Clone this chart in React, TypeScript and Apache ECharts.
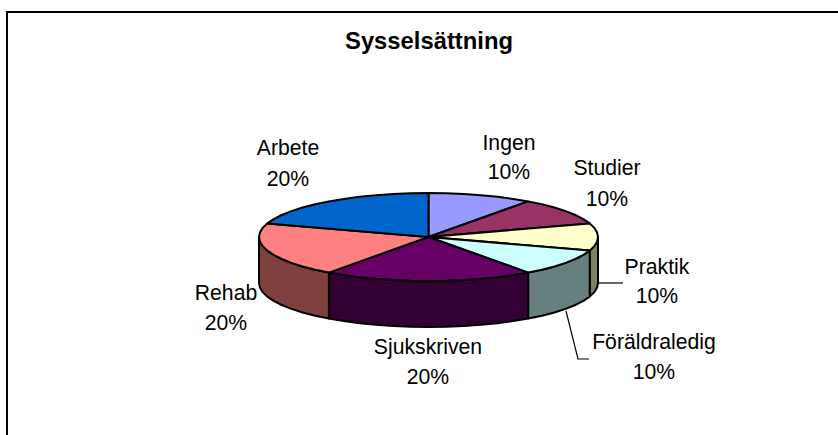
import React, { useEffect, useRef } from "react";
import * as echarts from "echarts";

const categories = ["Ingen", "Studier", "Praktik", "Föräldraledig", "Sjukskriven", "Rehab", "Arbete"];
const shares = [10, 10, 10, 10, 20, 20, 20];
const topColors = ["#9999FF", "#993366", "#FFFFCC", "#CCFFFF", "#660066", "#FF8080", "#0066CC"];
const sideColors = ["#4D4D80", "#4D1A33", "#808066", "#668080", "#330033", "#804040", "#003366"];
const labelCentres = [
  [509, 142, 171],
  [607, 167, 198],
  [657, 266, 295],
  [654, 341, 371],
  [428, 346, 376],
  [226, 292, 322],
  [288, 147, 178],
];

const CX = 428.5, CY = 237, RX = 169.5, RY = 44, DEPTH = 46;
const FONT = '"Liberation Sans", Arial, sans-serif';
const total = shares.reduce((a, b) => a + b, 0);
const startOf = (i: number) => (shares.slice(0, i).reduce((a, b) => a + b, 0) / total) * Math.PI * 2;
const pt = (a: number, dy = 0): [number, number] => [CX + RX * Math.sin(a), CY - RY * Math.cos(a) + dy];
const arc = (a0: number, a1: number, dy = 0) => {
  const out: [number, number][] = [];
  const n = Math.max(2, Math.round((a1 - a0) / (Math.PI / 30)));
  for (let k = 0; k <= n; k++) out.push(pt(a0 + ((a1 - a0) * k) / n, dy));
  return out;
};
const seriesData = shares.map((v, i) => ({ value: v, name: categories[i] }));

export default function App() {
  const ref = useRef<HTMLDivElement>(null);
  useEffect(() => {
    const chart = echarts.init(ref.current!, undefined, { renderer: "svg" });
    chart.setOption({
      animation: false,
      backgroundColor: "#fff",
      title: {
        text: "Sysselsättning",
        left: 424,
        top: 23,
        textAlign: "center",
        textStyle: { fontFamily: FONT, fontSize: 23.8, fontWeight: "bold", color: "#000" },
      },
      graphic: [
        { type: "rect", shape: { x: 7, y: 12, width: 900, height: 600 }, style: { fill: "none", stroke: "#000", lineWidth: 2 }, silent: true },
        { type: "polyline", shape: { points: [[598, 283], [623, 283]] }, style: { fill: "none", stroke: "#000", lineWidth: 1.2 }, silent: true },
        { type: "polyline", shape: { points: [[566, 311], [578, 359], [589, 359]] }, style: { fill: "none", stroke: "#000", lineWidth: 1.2 }, silent: true },
      ],
      series: [
        {
          type: "custom",
          coordinateSystem: "none",
          silent: true,
          z: 2,
          data: seriesData,
          renderItem: (params: any) => {
            const i = params.dataIndex;
            const a0 = Math.max(startOf(i), Math.PI / 2);
            const a1 = Math.min(startOf(i + 1), Math.PI * 1.5);
            if (a1 <= a0) return { type: "group", children: [] };
            const points = [...arc(a0, a1), ...arc(a0, a1, DEPTH).reverse()];
            return {
              type: "polygon",
              shape: { points },
              style: { fill: sideColors[i], stroke: "#000", lineWidth: 2, lineJoin: "round" },
            };
          },
        },
        {
          type: "custom",
          coordinateSystem: "none",
          silent: true,
          z: 3,
          data: seriesData,
          renderItem: (params: any) => {
            const i = params.dataIndex;
            const points = [[CX, CY], ...arc(startOf(i), startOf(i + 1))];
            return {
              type: "polygon",
              shape: { points },
              style: { fill: topColors[i], stroke: "#000", lineWidth: 2, lineJoin: "round" },
            };
          },
        },
        {
          type: "custom",
          coordinateSystem: "none",
          silent: true,
          z: 4,
          data: seriesData,
          renderItem: (params: any) => {
            const i = params.dataIndex;
            const [x, y1, y2] = labelCentres[i];
            const base = { fontFamily: FONT, fontSize: 21.2, fill: "#000", align: "center", verticalAlign: "middle" };
            return {
              type: "group",
              children: [
                { type: "text", style: { ...base, x, y: y1, text: categories[i] } },
                { type: "text", style: { ...base, x, y: y2, text: `${shares[i]}%` } },
              ],
            };
          },
        },
      ],
    });
    return () => chart.dispose();
  }, []);
  return <div ref={ref} style={{ position: "fixed", left: 0, top: 0, width: 838, height: 435 }} />;
}
